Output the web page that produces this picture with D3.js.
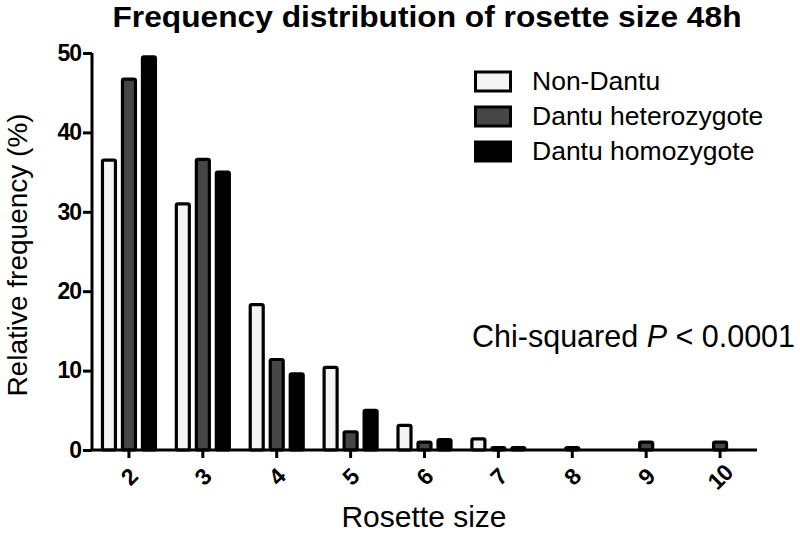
<!DOCTYPE html>
<html>
<head>
<meta charset="utf-8">
<script src="https://cdn.jsdelivr.net/npm/d3@7/dist/d3.min.js"></script>
<style>
  body { margin: 0; background: #fff; }
  svg { display: block; font-family: "Liberation Sans", Arial, sans-serif; }
</style>
</head>
<body>
<svg id="chart" width="800" height="533"></svg>
<script>
// ---- data ----
const categories = ["2", "3", "4", "5", "6", "7", "8", "9", "10"];
const seriesNames = ["Non-Dantu", "Dantu heterozygote", "Dantu homozygote"];
const nonDantu      = [36.5, 31.0, 18.3, 10.4, 3.1, 1.4, 0, 0, 0];
const heterozygote  = [46.7, 36.6, 11.4, 2.3, 1.0, 0.3, 0.3, 1.0, 1.0];
const homozygote    = [49.5, 35.0, 9.6, 5.0, 1.3, 0.3, 0, 0, 0];
const yTicks = [0, 10, 20, 30, 40, 50];
const titleText = "Frequency distribution of rosette size 48h";
const xTitle = "Rosette size";
const yTitle = "Relative frequency (%)";

const seriesValues = [nonDantu, heterozygote, homozygote];
const fills = ["#f4f4f4", "#464646", "#000000"];

(function () {
const svg = d3.select("#chart");
const pL = 92, pR = 757, pT = 53, pB = 450;

const x = d3.scaleBand().domain(categories).range([pL, pR]).padding(0);
const y = d3.scaleLinear().domain([0, 50]).range([pB, pT]);
const bw = x.bandwidth();
const xSub = d3.scaleBand().domain(seriesNames).range([bw / 2 - 30, bw / 2 + 30]).padding(0);
const barW = 13;

// bars
const rows = [];
categories.forEach((c, i) => {
  seriesNames.forEach((s, j) => rows.push({ c, s, j, v: seriesValues[j][i] }));
});
svg.append("g").selectAll("rect").data(rows).join("rect")
  .attr("x", d => x(d.c) + xSub(d.s) + (xSub.bandwidth() - barW) / 2)
  .attr("y", d => y(d.v))
  .attr("width", barW)
  .attr("height", d => y(0) - y(d.v))
  .attr("rx", 1.5)
  .attr("fill", d => fills[d.j])
  .attr("stroke", "#000")
  .attr("stroke-width", 3.2);

// y axis
const yAxis = svg.append("g").attr("transform", `translate(${pL},0)`)
  .call(d3.axisLeft(y).tickValues(yTicks).tickSize(9).tickPadding(2).tickFormat(d3.format("d")));
yAxis.select(".domain").attr("stroke", "#000").attr("stroke-width", 3).attr("d", `M0,${pT}V${pB}`);
yAxis.selectAll(".tick line").attr("stroke", "#000").attr("stroke-width", 3);
yAxis.selectAll(".tick text")
  .attr("font-family", "'Liberation Sans', Arial, sans-serif")
  .attr("font-weight", "bold").attr("font-size", 23).attr("fill", "#000")
  .attr("letter-spacing", -1);

// x axis
const xAxis = svg.append("g").attr("transform", `translate(0,${pB})`)
  .call(d3.axisBottom(x).tickSize(8).tickSizeOuter(0));
xAxis.select(".domain").attr("stroke", "#000").attr("stroke-width", 3).attr("d", `M${pL - 1.5},0H${pR}`);
xAxis.selectAll(".tick line").attr("stroke", "#000").attr("stroke-width", 3);
xAxis.selectAll(".tick text")
  .attr("font-family", "'Liberation Sans', Arial, sans-serif")
  .attr("font-weight", "bold").attr("font-size", 23).attr("fill", "#000")
  .attr("text-anchor", "middle")
  .attr("dy", null).attr("y", null)
  .attr("dominant-baseline", "central")
  .attr("letter-spacing", -1)
  .attr("transform", "translate(0,27) rotate(-45)");

// title
svg.append("text").attr("x", 427).attr("y", 27).attr("text-anchor", "middle")
  .attr("font-weight", "bold").attr("font-size", 30)
  .attr("textLength", 629).attr("lengthAdjust", "spacingAndGlyphs")
  .text(titleText);

// axis titles
svg.append("text").attr("x", 424).attr("y", 527).attr("text-anchor", "middle")
  .attr("font-size", 30).text(xTitle);
svg.append("text").attr("transform", "translate(27,255) rotate(-90)").attr("text-anchor", "middle")
  .attr("font-size", 28).text(yTitle);

// legend
const legend = svg.append("g");
seriesNames.forEach((s, j) => {
  const ly = 72 + j * 35;
  legend.append("rect").attr("x", 475.5).attr("y", ly).attr("width", 35).attr("height", 19)
    .attr("fill", fills[j]).attr("stroke", "#000").attr("stroke-width", 3);
  legend.append("text").attr("x", 532).attr("y", 90 + j * 35)
    .attr("font-size", 26.5).text(s);
});

// annotation
const ann = svg.append("text").attr("x", 472).attr("y", 347).attr("font-size", 30.5);
ann.append("tspan").text("Chi-squared ");
ann.append("tspan").attr("font-style", "italic").text("P");
ann.append("tspan").text(" < 0.0001");
})();
</script>
</body>
</html>
